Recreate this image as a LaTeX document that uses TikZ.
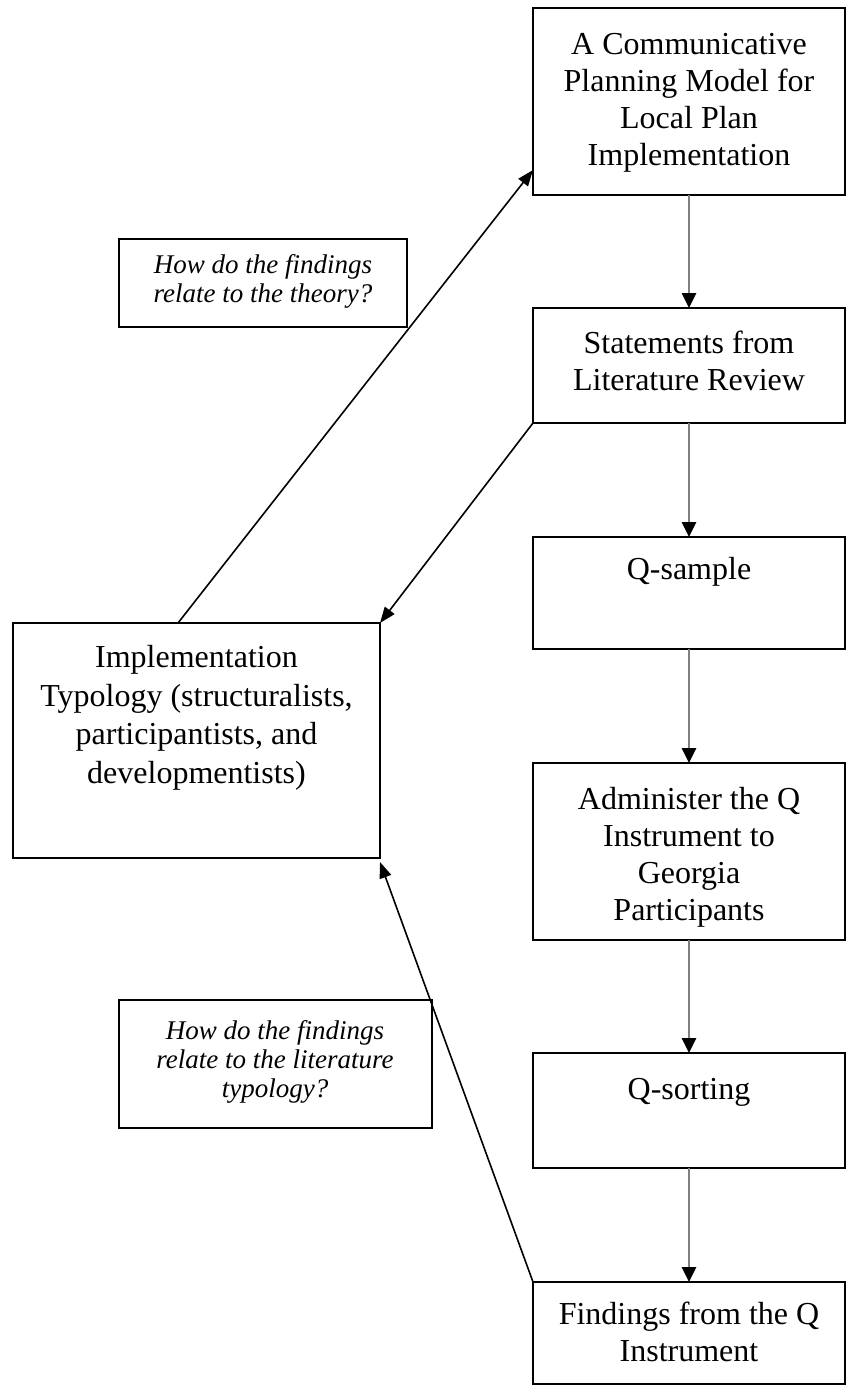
\documentclass[tikz,border=0pt]{standalone}
\usepackage{fontspec}
\setmainfont{Liberation Serif}
\usetikzlibrary{arrows.meta,calc}
\begin{document}
\begin{tikzpicture}[x=1pt,y=-1pt,
  box/.style={draw=black, line width=1.8pt, inner sep=0pt, outer sep=0pt, anchor=north west, fill=white},
  txt/.style={font=\fontsize{32}{37}\selectfont, align=center, inner sep=0pt, anchor=base},
  qtxt/.style={font=\fontsize{27}{29}\selectfont\itshape, align=center, inner sep=0pt, anchor=base},
  flow/.style={draw=black!50, line width=2.6pt, -{Triangle[length=15pt,width=14pt,color=black]}},
  link/.style={draw=black, line width=1.6pt, -{Triangle[length=16pt,width=12pt]}}]
\useasboundingbox[fill=white] (0,0) rectangle (849,1393);

% boxes
\node[box, minimum width=312pt, minimum height=187pt] (b1) at (533,8) {};
\node[box, minimum width=312pt, minimum height=115pt] (b2) at (533,308) {};
\node[box, minimum width=312pt, minimum height=112pt] (b3) at (533,537) {};
\node[box, minimum width=312pt, minimum height=177pt] (b4) at (533,763) {};
\node[box, minimum width=312pt, minimum height=115pt] (b5) at (533,1053) {};
\node[box, minimum width=312pt, minimum height=102pt] (b6) at (533,1282) {};
\node[box, minimum width=367pt, minimum height=235pt] (typ) at (13,623) {};
\node[box, minimum width=288pt, minimum height=88pt] (q1) at (119,239) {};
\node[box, minimum width=313pt, minimum height=128pt] (q2) at (119,1000) {};

% texts (anchor = baseline of last line)
\node[txt] (b1t) at (689,165) {A Communicative\\Planning Model for\\Local Plan\\Implementation};
\node[txt] (b2t) at (689,390) {Statements from\\Literature Review};
\node[txt] (b3t) at (689,579) {Q-sample};
\node[txt] (b4t) at (689,920) {Administer the Q\\Instrument to\\Georgia\\Participants};
\node[txt] (b5t) at (689,1099) {Q-sorting};
\node[txt] (b6t) at (689,1361) {Findings from the Q\\Instrument};
\node[txt, font=\fontsize{32}{38.5}\selectfont] (typt) at (196.5,783) {Implementation\\Typology (structuralists,\\participantists, and\\developmentists)};
\node[qtxt] (q1t) at (263,302) {How do the findings\\relate to the theory?};
\node[qtxt] (q2t) at (275,1097) {How do the findings\\relate to the literature\\typology?};

% flow arrows
\draw[flow] (b1.south) -- (b2.north);
\draw[flow] (b2.south) -- (b3.north);
\draw[flow] (b3.south) -- (b4.north);
\draw[flow] (b4.south) -- (b5.north);
\draw[flow] (b5.south) -- (b6.north);

% links
\draw[link] ($(typ.north west)+(165,0)$) -- ($(b1.south west)+(0,-25)$);
\draw[link] (b2.south west) -- (typ.north east);
\draw[link] (b6.north west) -- ($(typ.south east)+(0,4)$);
\end{tikzpicture}
\end{document}
